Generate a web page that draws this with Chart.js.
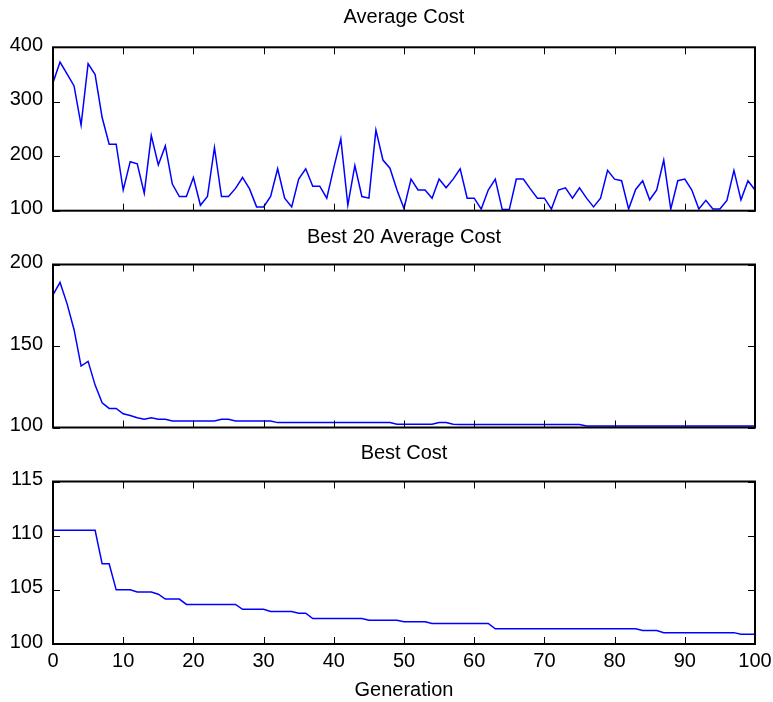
<!DOCTYPE html>
<html>
<head>
<meta charset="utf-8">
<script src="https://cdn.jsdelivr.net/npm/chart.js@4/dist/chart.umd.min.js"></script>
<style>
  html, body { margin: 0; padding: 0; background: #fff; }
  #wrap { position: relative; width: 773px; height: 702px; overflow: hidden; }
  .box { position: absolute; left: 0; width: 773px; }
</style>
</head>
<body>
<div id="wrap">
  <div class="box" style="top:0px;height:230px"><canvas id="c1"></canvas></div>
  <div class="box" style="top:220px;height:230px"><canvas id="c2"></canvas></div>
  <div class="box" style="top:436px;height:266px"><canvas id="c3"></canvas></div>
</div>
<script>
// ---- data ----
const generations = Array.from({ length: 101 }, (_, i) => i);

const averageCost = [
  335, 373, 351, 329, 257, 370, 350, 271, 222, 222,
  138, 190, 186, 132, 238, 184, 219, 149, 126, 126,
  161, 110, 126, 216, 126, 126, 141, 161, 140, 107,
  107, 126, 177, 123, 107, 158, 177, 145, 145, 123,
  179, 232, 110, 183, 126, 123, 248, 193, 178, 138,
  104, 158, 138, 138, 123, 158, 142, 158, 177, 123,
  123, 103, 138, 158, 102, 102, 158, 158, 140, 123,
  123, 103, 138, 142, 123, 142, 123, 107, 123, 174,
  158, 155, 103, 139, 155, 120, 138, 193, 103, 155,
  158, 138, 103, 119, 103, 103, 119, 174, 120, 155,
  138
];

const best20AverageCost = [
  181.4, 189, 176, 160, 137.7, 140.6, 126, 115.2, 111.7, 111.7,
  108.4, 107.4, 106, 105, 106, 105, 105, 104, 104, 104,
  104, 104, 104, 104, 105, 105, 104, 104, 104, 104,
  104, 104, 103, 103, 103, 103, 103, 103, 103, 103,
  103, 103, 103, 103, 103, 103, 103, 103, 103, 102,
  102, 102, 102, 102, 102, 103, 103, 102, 101.8, 101.8,
  101.8, 101.8, 101.8, 101.8, 101.8, 101.8, 101.8, 101.8, 101.8, 101.8,
  101.8, 101.8, 101.8, 101.8, 101.8, 101.8, 100.9, 100.9, 100.9, 100.9,
  100.9, 100.9, 100.9, 100.9, 100.9, 100.9, 100.9, 100.9, 100.9, 100.9,
  100.9, 100.9, 100.9, 100.9, 100.9, 100.9, 100.9, 100.9, 100.9, 100.9,
  100.9
];

const bestCost = [
  110.5, 110.5, 110.5, 110.5, 110.5, 110.5, 110.5, 107.4, 107.4, 105,
  105, 105, 104.8, 104.8, 104.8, 104.6, 104.15, 104.15, 104.15, 103.65,
  103.65, 103.65, 103.65, 103.65, 103.65, 103.65, 103.65, 103.2, 103.2, 103.2,
  103.2, 103.0, 103.0, 103.0, 103.0, 102.85, 102.85, 102.35, 102.35, 102.35,
  102.35, 102.35, 102.35, 102.35, 102.35, 102.2, 102.2, 102.2, 102.2, 102.2,
  102.05, 102.05, 102.05, 102.05, 101.9, 101.9, 101.9, 101.9, 101.9, 101.9,
  101.9, 101.9, 101.9, 101.4, 101.4, 101.4, 101.4, 101.4, 101.4, 101.4,
  101.4, 101.4, 101.4, 101.4, 101.4, 101.4, 101.4, 101.4, 101.4, 101.4,
  101.4, 101.4, 101.4, 101.4, 101.25, 101.25, 101.25, 101.05, 101.05, 101.05,
  101.05, 101.05, 101.05, 101.05, 101.05, 101.05, 101.05, 101.05, 100.9, 100.9,
  100.9
];

const xTickValues = [0, 10, 20, 30, 40, 50, 60, 70, 80, 90, 100];
const yTicksAverage = [100, 200, 300, 400];
const yTicksBest20 = [100, 150, 200];
const yTicksBest = [100, 105, 110, 115];

const titles = ['Average Cost', 'Best 20 Average Cost', 'Best Cost'];
const xAxisTitle = 'Generation';

// ---- styling ----
const FONT = { family: "'Liberation Sans', Arial, Helvetica, sans-serif", size: 20 };
Chart.defaults.color = '#000';
Chart.defaults.font.family = FONT.family;

const frame = {
  id: 'frame',
  afterDatasetsDraw(chart) {
    const { ctx, chartArea: a, scales } = chart;
    const x = scales.x, y = scales.y;
    ctx.save();
    ctx.strokeStyle = '#000';
    ctx.lineWidth = 1;
    ctx.beginPath();
    for (const v of xTickValues) {
      const px = Math.round(x.getPixelForValue(v)) + 0.5;
      ctx.moveTo(px, a.bottom); ctx.lineTo(px, a.bottom - 7);
      ctx.moveTo(px, a.top); ctx.lineTo(px, a.top + 7);
    }
    for (const t of y.ticks) {
      const py = Math.round(y.getPixelForValue(t.value)) + 0.5;
      ctx.moveTo(a.left, py); ctx.lineTo(a.left + 7, py);
      ctx.moveTo(a.right, py); ctx.lineTo(a.right - 7, py);
    }
    ctx.stroke();
    ctx.lineWidth = 2;
    ctx.strokeRect(a.left, a.top, a.right - a.left, a.bottom - a.top);
    ctx.restore();
  }
};

function makeChart(id, values, yTicks, title, cfg) {
  const points = generations.map((g, i) => ({ x: g, y: values[i] }));
  return new Chart(document.getElementById(id), {
    type: 'line',
    data: {
      datasets: [{
        data: points,
        borderColor: '#0000ff',
        borderWidth: 1.5,
        pointRadius: 0,
        tension: 0,
        fill: false
      }]
    },
    options: {
      responsive: true,
      maintainAspectRatio: false,
      animation: false,
      events: [],
      layout: { padding: { left: 0, right: 18, top: 0, bottom: cfg.padBottom } },
      plugins: {
        legend: { display: false },
        tooltip: { enabled: false },
        title: {
          display: true,
          text: title,
          fullSize: false,
          color: '#000',
          font: { family: FONT.family, size: FONT.size, weight: 'normal' },
          padding: { top: cfg.titleTop, bottom: cfg.titleBottom }
        }
      },
      scales: {
        x: {
          type: 'linear',
          min: 0, max: 100,
          display: cfg.showX,
          grid: { display: false, drawTicks: false },
          border: { display: false },
          afterBuildTicks: (s) => { s.ticks = xTickValues.map(v => ({ value: v })); },
          afterFit: (s) => {
            if (cfg.showX) s.height = cfg.xHeight;
            s.paddingLeft = 0; s.paddingRight = 0;
          },
          ticks: {
            font: { family: FONT.family, size: FONT.size },
            color: '#000',
            padding: 5,
            maxRotation: 0,
            autoSkip: false
          },
          title: {
            display: cfg.showX,
            text: xAxisTitle,
            color: '#000',
            font: { family: FONT.family, size: FONT.size },
            padding: { top: 0, bottom: 0 }
          }
        },
        y: {
          type: 'linear',
          min: yTicks[0], max: yTicks[yTicks.length - 1],
          grid: { display: false, drawTicks: false },
          border: { display: false },
          afterBuildTicks: (s) => { s.ticks = yTicks.map(v => ({ value: v })); },
          afterFit: (s) => { s.width = 53; s.paddingTop = 0; s.paddingBottom = 0; },
          ticks: {
            font: { family: FONT.family, size: FONT.size },
            color: '#000',
            padding: 10,
            labelOffset: -2
          }
        }
      }
    },
    plugins: [frame]
  });
}

makeChart('c1', averageCost, yTicksAverage, titles[0],
  { titleTop: 5.2, titleBottom: 18.1, padBottom: 19.3, showX: false });
makeChart('c2', best20AverageCost, yTicksBest20, titles[1],
  { titleTop: 5, titleBottom: 15.5, padBottom: 22.5, showX: false });
makeChart('c3', bestCost, yTicksBest, titles[2],
  { titleTop: 5, titleBottom: 16.5, padBottom: 0, showX: true, xHeight: 58 });
</script>
</body>
</html>
